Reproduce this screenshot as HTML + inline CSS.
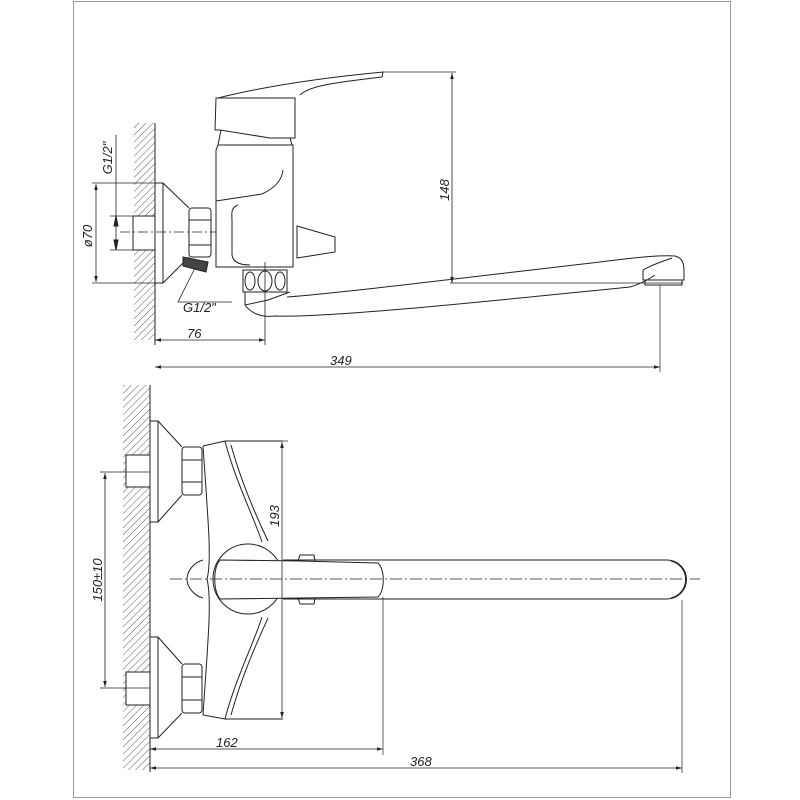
<!DOCTYPE html>
<html><head><meta charset="utf-8"><style>
html,body{margin:0;padding:0;background:#fff}
svg{display:block}
text{font-family:"Liberation Sans",sans-serif;font-style:italic;font-size:13px;fill:#222}
</style></head><body>
<svg width="800" height="800" viewBox="0 0 800 800" xmlns="http://www.w3.org/2000/svg">
<defs>
<pattern id="h" width="5" height="5" patternUnits="userSpaceOnUse" patternTransform="rotate(45)">
<line x1="0" y1="0" x2="0" y2="5" stroke="#333" stroke-width="0.8"/></pattern>
<marker id="a" viewBox="0 0 10 10" refX="10" refY="5" markerWidth="9" markerHeight="6" orient="auto-start-reverse" markerUnits="userSpaceOnUse"><path d="M0,2 L10,5 L0,8 z" fill="#222"/></marker>
</defs>
<rect x="73.5" y="1.5" width="657" height="796" fill="none" stroke="#999" stroke-width="1"/>
<g fill="none" stroke="#222" stroke-width="1">
<!-- TOP VIEW -->
<rect x="134" y="123" width="21" height="217" fill="url(#h)" stroke="none"/>
<line x1="155" y1="123" x2="155" y2="345"/>
<rect x="133" y="216" width="22" height="34" fill="#fff"/>
<path d="M155,183 H163 V283 H155"/>
<path d="M163,183 L189,208 M163,283 L189,257"/>
<rect x="189" y="208" width="22" height="49" rx="3"/>
<line x1="189" y1="220" x2="211" y2="220"/><line x1="189" y1="245" x2="211" y2="245"/>
<path d="M183,257 L208,262 L206,272 L183,266 z" fill="#444"/>
<line x1="120" y1="232" x2="216" y2="232" stroke-dasharray="10,3,2,3" stroke-width="0.7"/>
<!-- body -->
<path d="M216,98 L295,98 L295,138 L270,138 L220,130 L215,130 z"/>
<path d="M218,98 C270,85 330,77 383,72 L382,77 C340,82 310,85 300,95"/>
<path d="M218,145 H293 V267 H216 V150 z"/>
<path d="M221,130 L218,145 M290,138 L292,145"/>
<path d="M216,201 C235,198 250,196 262,194 C275,188 282,180 283,170"/>
<path d="M238,205 C230,208 232,215 232,220 L232,255 C233,262 240,265 250,265"/>
<path d="M238,205 C260,200 275,198 283,170" stroke="none"/>
<path d="M297,226 L335,237 L335,252 L297,258 z"/>
<path d="M243,270 H287 V292 H243 z" rx="3"/>
<ellipse cx="250" cy="281" rx="5" ry="9"/><ellipse cx="265" cy="281" rx="7" ry="10"/><ellipse cx="280" cy="281" rx="5" ry="9"/>
<line x1="265" y1="262" x2="265" y2="345" stroke-width="0.8"/>
<!-- spout -->
<path d="M245,292 L245,305 C250,312 260,318 275,316 C330,318 500,300 630,287 C640,284 648,280 655,275"/>
<path d="M287,297 C330,294 420,283 600,262 C630,258 660,255 675,256 C682,258 684,262 684,272 L684,280 L643,280 L643,270 C650,266 660,262 672,258"/>
<path d="M245,305 L268,300 L290,292"/>
<path d="M645,280 L645,285 L682,285 L682,280"/>
<!-- dimensions top -->
<line x1="383" y1="72" x2="456" y2="72" stroke-width="0.7"/>
<line x1="450" y1="283" x2="683" y2="283" stroke-width="0.7"/>
<line x1="452" y1="73" x2="452" y2="283" marker-start="url(#a)" marker-end="url(#a)" stroke-width="0.8"/>
<line x1="660" y1="285" x2="660" y2="372" stroke-width="0.7"/>
<line x1="155" y1="340" x2="265" y2="340" marker-start="url(#a)" marker-end="url(#a)" stroke-width="0.8"/>
<line x1="155" y1="367" x2="660" y2="367" marker-start="url(#a)" marker-end="url(#a)" stroke-width="0.8"/>
<line x1="92" y1="183" x2="155" y2="183" stroke-width="0.7"/><line x1="92" y1="283" x2="155" y2="283" stroke-width="0.7"/>
<line x1="96" y1="184" x2="96" y2="282" marker-start="url(#a)" marker-end="url(#a)" stroke-width="0.8"/>
<line x1="110" y1="216" x2="133" y2="216" stroke-width="0.7"/><line x1="110" y1="250" x2="133" y2="250" stroke-width="0.7"/>
<line x1="116" y1="135" x2="116" y2="250" stroke-width="0.8"/>
<path d="M116,216 l-2,10 h4z M116,250 l-2,-10 h4z" fill="#222"/>
<path d="M195,268 L178,302 L232,302" stroke-width="0.8"/>
<!-- BOTTOM VIEW -->
<rect x="123" y="385" width="27" height="385" fill="url(#h)" stroke="none"/>
<line x1="150" y1="385" x2="150" y2="772"/>
<rect x="126" y="455" width="24" height="32" fill="#fff"/>
<rect x="126" y="672" width="24" height="33" fill="#fff"/>
<path d="M150,421 H158 V522 H150 M158,421 L182,447 M158,522 L182,495"/>
<rect x="182" y="447" width="20" height="48" rx="3"/><line x1="182" y1="460" x2="202" y2="460"/><line x1="182" y1="482" x2="202" y2="482"/>
<path d="M150,637 H158 V738 H150 M158,637 L182,664 M158,738 L182,713"/>
<rect x="182" y="664" width="20" height="49" rx="3"/><line x1="182" y1="677" x2="202" y2="677"/><line x1="182" y1="700" x2="202" y2="700"/>
<line x1="100" y1="472" x2="150" y2="472" stroke-width="0.7"/>
<line x1="100" y1="688" x2="150" y2="688" stroke-width="0.7"/>
<!-- body -->
<path d="M203,446 L225,441 L283,441 M203,446 C208,520 212,560 207,579 C212,600 208,640 203,715 L225,719 L283,719"/>
<path d="M225,441 C235,480 255,520 262,542 M231,445 C242,485 258,520 268,541"/>
<path d="M225,719 C235,680 255,640 262,617 M231,715 C242,675 258,640 268,618"/>
<path d="M203,560 C195,562 187,570 187,579 C187,588 195,596 203,598"/>
<circle cx="248" cy="579" r="35" fill="#fff"/>
<path d="M283,560 H667 A19,19 0 0 1 667,599 H283"/>
<path d="M671,561 A19,19 0 0 1 671,598"/>
<path d="M220,560 L300,561 L378,563 C385,570 385,590 378,597 L300,598 L220,599 C213,590 213,568 220,560 z" fill="#fff"/>
<path d="M298,561 L300,555 L314,555 L315,561 M298,598 L300,604 L314,604 L315,598"/>
<line x1="170" y1="579" x2="700" y2="579" stroke-dasharray="12,3,2,3" stroke-width="0.7"/>
<!-- dims bottom -->
<line x1="283" y1="441" x2="288" y2="441" stroke-width="0.7"/>
<line x1="282" y1="442" x2="282" y2="718" marker-start="url(#a)" marker-end="url(#a)" stroke-width="0.8"/>
<line x1="105" y1="473" x2="105" y2="687" marker-start="url(#a)" marker-end="url(#a)" stroke-width="0.8"/>
<line x1="383" y1="597" x2="383" y2="755" stroke-width="0.7"/>
<line x1="682" y1="600" x2="682" y2="773" stroke-width="0.7"/>
<line x1="150" y1="749" x2="383" y2="749" marker-start="url(#a)" marker-end="url(#a)" stroke-width="0.8"/>
<line x1="150" y1="768" x2="682" y2="768" marker-start="url(#a)" marker-end="url(#a)" stroke-width="0.8"/>
</g>
<text x="187" y="338">76</text>
<text x="330" y="365">349</text>
<text x="216" y="747">162</text>
<text x="410" y="766">368</text>
<text x="183" y="312">G1/2"</text>
<text transform="translate(449,190) rotate(-90)" text-anchor="middle">148</text>
<text transform="translate(92,236) rotate(-90)" text-anchor="middle">ø70</text>
<text transform="translate(112,158) rotate(-90)" text-anchor="middle">G1/2"</text>
<text transform="translate(279,516) rotate(-90)" text-anchor="middle">193</text>
<text transform="translate(102,580) rotate(-90)" text-anchor="middle">150±10</text>
</svg>
</body></html>
